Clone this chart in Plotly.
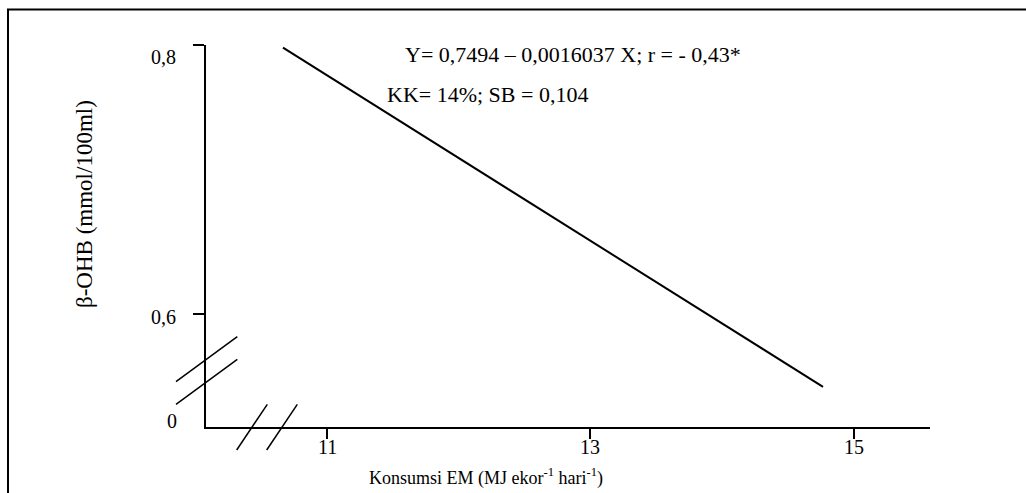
import plotly.graph_objects as go

# Data
x_line = [10.666, 14.765]
y_line = [0.798, 0.5463]

x_tickvals = [11, 13, 15]
x_ticktext = ["11", "13", "15"]
y_tickvals = [0.8, 0.6]
y_ticktext = ["0,8", "0,6"]
y_break_label = "0"

eq_line1 = "Y= 0,7494 – 0,0016037 X; r = - 0,43*"
eq_line2 = "KK= 14%; SB = 0,104"
x_title = "Konsumsi EM (MJ ekor<sup>-1</sup> hari<sup>-1</sup>)"
y_title = "β-OHB (mmol/100ml)"

FONT = "Liberation Serif, Times New Roman, serif"

fig = go.Figure()
fig.add_trace(go.Scatter(x=x_line, y=y_line, mode="lines",
                         line=dict(color="black", width=2), showlegend=False,
                         hoverinfo="skip"))

W, H = 1026, 493
ml, mr, mt, mb = 206, 96, 45, 66
pw, ph = W - ml - mr, H - mt - mb

def px(xp):
    return (xp - ml) / pw

def py(yp):
    return (H - mb - yp) / ph

shapes = []
line_style = dict(color="black", width=1.5)
# axis break marks
for (x0, y0, x1, y1) in [(176, 381.7, 237.3, 336.7), (176, 404.3, 237.3, 359.3),
                         (236.7, 450, 267.3, 404.3), (266.7, 450, 297.3, 404.3)]:
    shapes.append(dict(type="line", xref="paper", yref="paper",
                       x0=px(x0), y0=py(y0), x1=px(x1), y1=py(y1), line=line_style))
# outer frame (left and top)
shapes.append(dict(type="line", xref="paper", yref="paper",
                   x0=px(8), y0=py(9.5), x1=px(8), y1=py(520), line=dict(color="black", width=2)))
shapes.append(dict(type="line", xref="paper", yref="paper",
                   x0=px(7), y0=py(9.5), x1=px(1040), y1=py(9.5), line=dict(color="black", width=2)))

annotations = []
# y tick labels
for v, t, sh in zip(y_tickvals, y_ticktext, [-12, -3]):
    annotations.append(dict(x=px(178), xref="paper", y=v, yref="y", text=t,
                            showarrow=False, xanchor="right", yanchor="middle",
                            yshift=sh, font=dict(family=FONT, size=20, color="black")))
annotations.append(dict(x=px(179), xref="paper", y=py(420.5), yref="paper", text=y_break_label,
                        showarrow=False, xanchor="right", yanchor="middle",
                        font=dict(family=FONT, size=20, color="black")))
# x tick labels
for v, t in zip(x_tickvals, x_ticktext):
    annotations.append(dict(x=v, xref="x", y=py(447), yref="paper", text=t,
                            showarrow=False, xanchor="center", yanchor="middle",
                            font=dict(family=FONT, size=20, color="black")))
# equation text
annotations.append(dict(x=px(403), xref="paper", y=py(55), yref="paper", text=eq_line1,
                        showarrow=False, xanchor="left", yanchor="middle",
                        font=dict(family=FONT, size=22, color="black")))
annotations.append(dict(x=px(385), xref="paper", y=py(95), yref="paper", text=eq_line2,
                        showarrow=False, xanchor="left", yanchor="middle",
                        font=dict(family=FONT, size=22, color="black")))
# axis titles
annotations.append(dict(x=px(485.5), xref="paper", y=py(477), yref="paper", text=x_title,
                        showarrow=False, xanchor="center", yanchor="middle",
                        font=dict(family=FONT, size=18, color="black")))
annotations.append(dict(x=px(84), xref="paper", y=py(204), yref="paper", text=y_title,
                        showarrow=False, xanchor="center", yanchor="middle", textangle=-90,
                        font=dict(family=FONT, size=23, color="black")))

fig.update_layout(
    width=W, height=H,
    margin=dict(l=ml, r=mr, t=mt, b=mb, pad=0),
    paper_bgcolor="white", plot_bgcolor="white",
    font=dict(family=FONT, size=20, color="black"),
    shapes=shapes, annotations=annotations,
    xaxis=dict(range=[10.0816, 15.577], showgrid=False, zeroline=False,
               showline=True, linecolor="black", linewidth=1.5,
               ticks="outside", ticklen=10, tickwidth=1.5, tickcolor="black",
               tickvals=x_tickvals, showticklabels=False),
    yaxis=dict(range=[0.5165, 0.8], showgrid=False, zeroline=False,
               showline=True, linecolor="black", linewidth=1.5,
               ticks="outside", ticklen=11, tickwidth=1.5, tickcolor="black",
               tickvals=y_tickvals, showticklabels=False),
)

fig.write_html("out.html", config={"displayModeBar": False},
               post_script="document.body.style.margin='0';document.body.style.overflow='hidden';")
